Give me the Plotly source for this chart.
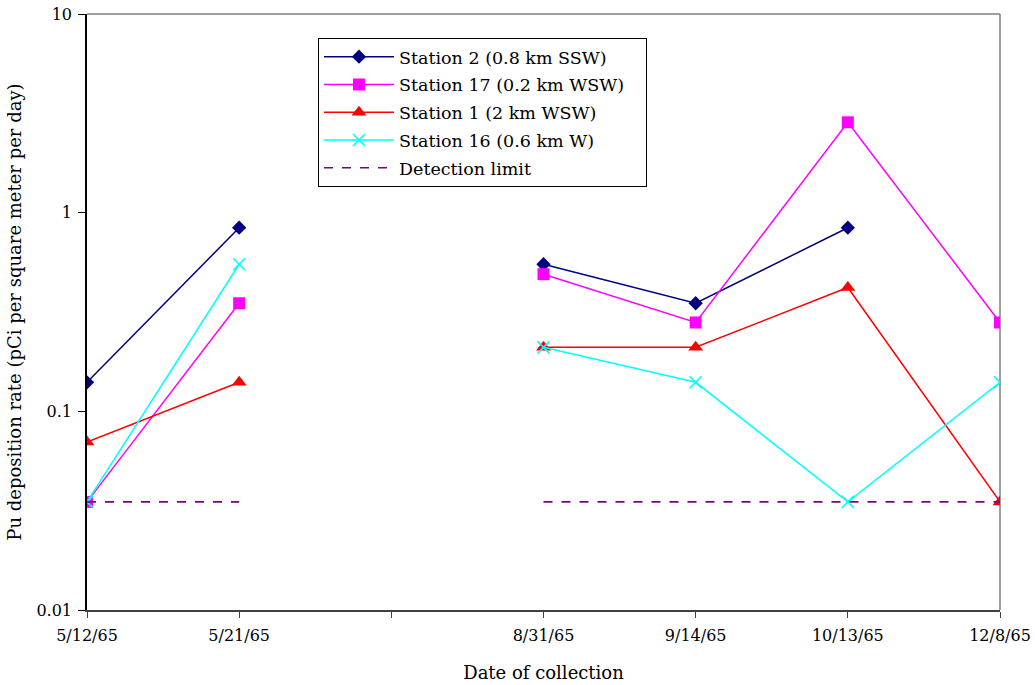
import plotly.graph_objects as go

dates = ["5/12/65", "5/21/65", "", "8/31/65", "9/14/65", "10/13/65", "12/8/65"]
station2 = [0.14, 0.84, None, 0.55, 0.35, 0.84, None]
station17 = [0.035, 0.35, None, 0.49, 0.28, 2.85, 0.28]
station1 = [0.07, 0.14, None, 0.21, 0.21, 0.42, 0.035]
station16 = [0.035, 0.55, None, 0.21, 0.14, 0.035, 0.14]
detection = [0.035, 0.035, None, 0.035, 0.035, 0.035, 0.035]

xpos = list(range(len(dates)))
FONT = "DejaVu Serif"

fig = go.Figure()
series = [
    ("Station 2 (0.8 km SSW)", station2, "#000080", dict(symbol="diamond", size=11, color="#000080")),
    ("Station 17 (0.2 km WSW)\u00a0\u00a0\u00a0", station17, "#FF00FF", dict(symbol="square", size=12, color="#FF00FF")),
    ("Station 1 (2 km WSW)", station1, "#FF0000", dict(symbol="triangle-up", size=13, color="#FF0000")),
    ("Station 16 (0.6 km W)", station16, "#00FFFF", dict(symbol="x-thin-open", size=12, color="#00FFFF", line=dict(width=1.6, color="#00FFFF"))),
]
for i, (name, ys, col, mk) in enumerate(series):
    fig.add_trace(go.Scatter(x=xpos, y=ys, name=name, mode="lines+markers",
                             line=dict(color=col, width=1.5), marker=mk,
                             connectgaps=False, legendgroup=f"g{i}"))
fig.add_trace(go.Scatter(x=xpos, y=detection, name="Detection limit", mode="lines",
                         line=dict(color="#800080", width=1.6, dash="dash"),
                         connectgaps=False, legendgroup="g5"))

fig.update_layout(
    width=1035, height=685,
    margin=dict(l=87, r=35, t=14, b=75),
    paper_bgcolor="white", plot_bgcolor="white",
    font=dict(family=FONT, size=16, color="black"),
    showlegend=True,
    legend=dict(x=0.253, y=0.96, xanchor="left", yanchor="top",
                bgcolor="white", bordercolor="black", borderwidth=1,
                tracegroupgap=2, itemwidth=70,
                font=dict(family=FONT, size=17.5, color="black")),
    xaxis=dict(range=[0, 6], tickmode="array", tickvals=xpos, ticktext=dates,
               showgrid=False, zeroline=False, showline=True, linecolor="#404040", linewidth=2,
               ticks="outside", ticklen=6, tickcolor="#404040", automargin=False,
               ticklabelstandoff=4,
               title=dict(text="Date of collection", font=dict(family=FONT, size=18), standoff=22),
               tickfont=dict(family=FONT, size=16)),
    yaxis=dict(type="log", range=[-2, 1], tickmode="array", tickvals=[0.01, 0.1, 1, 10],
               ticktext=["0.01", "0.1", "1", "10"],
               showgrid=False, zeroline=False, showline=True, linecolor="black", linewidth=1.5,
               ticks="outside", ticklen=7, tickcolor="black", automargin=False,
               ticklabelstandoff=3,
               title=dict(text="Pu deposition rate (pCi per square meter per day)",
                          font=dict(family=FONT, size=18), standoff=10),
               tickfont=dict(family=FONT, size=16)),
)
# gray plot-area frame (top and right)
fig.add_shape(type="line", xref="paper", yref="paper", x0=0, x1=1, y0=1, y1=1,
              line=dict(color="#808080", width=1.5), layer="below")
fig.add_shape(type="line", xref="paper", yref="paper", x0=1, x1=1, y0=0, y1=1,
              line=dict(color="#808080", width=1.5), layer="below")

fig.write_html("out.html", config={"displayModeBar": False},
               post_script="document.body.style.margin='0';document.body.style.overflow='hidden';")
